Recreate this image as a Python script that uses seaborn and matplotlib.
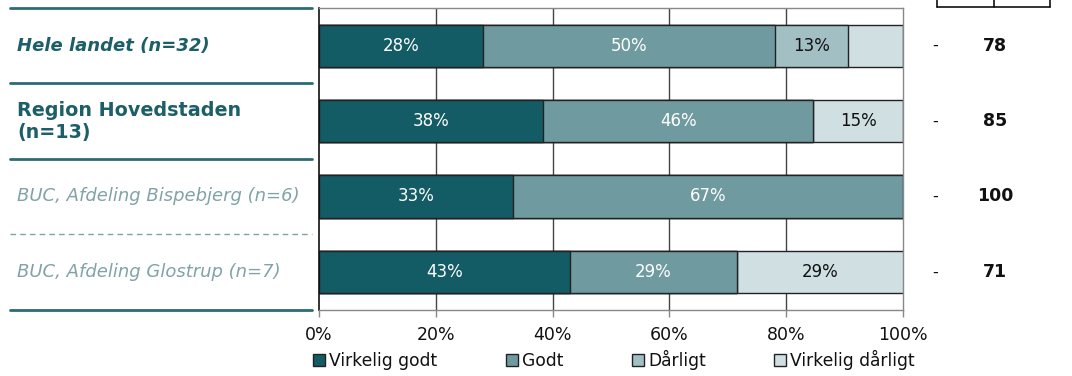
import numpy as np
import pandas as pd
import matplotlib
matplotlib.use("Agg")
import matplotlib.pyplot as plt
from matplotlib.lines import Line2D
from matplotlib.patches import Patch
from matplotlib.ticker import FuncFormatter
import seaborn as sns

# ---------------- data ----------------
row_keys = ["hele", "region", "bisp", "glos"]
row_labels = ["Hele landet (n=32)", "Region Hovedstaden\n(n=13)",
              "BUC, Afdeling Bispebjerg (n=6)", "BUC, Afdeling Glostrup (n=7)"]
row_bold = [True, True, False, False]
series_names = ["Virkelig godt", "Godt", "Dårligt", "Virkelig dårligt"]
virkelig_godt = [28.1, 38.4, 33.3, 42.9]
godt = [50.0, 46.2, 66.7, 28.6]
daarligt = [12.5, 0.0, 0.0, 0.0]
virkelig_daarligt = [9.4, 15.4, 0.0, 28.6]
score_values = ["78", "85", "100", "71"]
tick_values = [0, 20, 40, 60, 80, 100]

colors = ["#135b65", "#6f9ba0", "#a2bfc3", "#cfdfe2"]
text_colors = ["white", "white", "#111111", "#111111"]
dark_label = "#1c5f69"
light_label = "#7fa3a8"

sns.set_style("white")
plt.rcParams["font.family"] = ["DejaVu Sans"]

vals = np.array([virkelig_godt, godt, daarligt, virkelig_daarligt]).T
cum = np.cumsum(vals, axis=1)

W, H = 1072, 376
fig = plt.figure(figsize=(W / 100, H / 100), dpi=100)
ax = fig.add_axes([319 / W, 1 - 309.5 / H, 584 / W, 301.5 / H])

for x in tick_values[1:-1]:
    ax.axvline(x, color="#444444", lw=1, zorder=0)

for k in reversed(range(4)):
    df = pd.DataFrame({"key": row_keys, "val": cum[:, k]})
    sns.barplot(data=df, x="val", y="key", orient="h", color=colors[k],
                saturation=1, width=0.56, edgecolor="#222222", linewidth=1,
                ax=ax, zorder=2)

for i in range(len(row_keys)):
    for k in range(4):
        v = vals[i, k]
        if v >= 10:
            c = cum[i, k] - v / 2
            ax.text(c, i, f"{int(np.floor(v + 0.5))}%", ha="center", va="center",
                    color=text_colors[k], fontsize=12, zorder=3)

ax.set_xlim(0, 100)
ax.set_ylim(3.5, -0.5)
ax.set_xticks(tick_values)
ax.xaxis.set_major_formatter(FuncFormatter(lambda v, p: f"{int(v)}%"))
ax.tick_params(axis="x", length=5, width=1, color="#888888", labelsize=12.5,
               pad=7, direction="out", bottom=True, labelcolor="#111111")
ax.tick_params(axis="y", length=0)
ax.set_yticklabels([])
ax.set_xlabel("")
ax.set_ylabel("")
for s in ["top", "right", "bottom"]:
    ax.spines[s].set_color("#888888")
    ax.spines[s].set_linewidth(1)
ax.spines["left"].set_color("#111111")
ax.spines["left"].set_linewidth(1.2)

# left label column
ytr = ax.get_yaxis_transform()
x0 = (10 - 319) / 584
x1 = (312 - 319) / 584
for yb, style, col, lw in [(-0.5, "-", "#2a6b75", 2), (0.5, "-", "#2a6b75", 2),
                           (1.5, "-", "#2a6b75", 2), (2.5, (0, (4, 3)), light_label, 1),
                           (3.5, "-", "#2a6b75", 2)]:
    ax.add_line(Line2D([x0, x1], [yb, yb], transform=ytr, color=col, lw=lw,
                       ls=style, clip_on=False))

label_sizes = [13, 13.8, 13, 13]
for i, (lab, b) in enumerate(zip(row_labels, row_bold)):
    ax.text((17 - 319) / 584, i, lab, transform=ytr, ha="left", va="center",
            fontsize=label_sizes[i], fontweight="bold" if b else "normal",
            style="italic" if i == 0 or not b else "normal",
            color=dark_label if b else light_label, linespacing=1.2)

# right value column
for i, s in enumerate(score_values):
    ax.text((935 - 319) / 584, i, "-", transform=ytr, ha="center", va="center",
            fontsize=11.5, color="#111111")
    ax.text((995 - 319) / 584, i, s, transform=ytr, ha="center", va="center",
            fontsize=12.5, fontweight="bold", color="#111111")

# header box remnant at top right
ya = 1 + 8.5 / 301.5
yb_ = 1 + 1.0 / 301.5
for xp in [937, 994, 1050]:
    xa = (xp - 319) / 584
    ax.add_line(Line2D([xa, xa], [yb_, ya + 0.02], transform=ax.transAxes,
                       color="#111111", lw=1.2, clip_on=False))
ax.add_line(Line2D([(937 - 319) / 584, (1050 - 319) / 584], [yb_, yb_],
                   transform=ax.transAxes, color="#111111", lw=1.2, clip_on=False))

handles = [Patch(facecolor=c, edgecolor="#222222", lw=1) for c in colors]
fig.legend(handles, series_names, loc="center", bbox_to_anchor=(614 / W, 1 - 360 / H),
           ncol=4, frameon=False, fontsize=12.3, handlelength=0.7, handleheight=0.7,
           handletextpad=0.25, columnspacing=4.0, borderpad=0, labelcolor="#111111")

fig.savefig("out.png", dpi=100)
